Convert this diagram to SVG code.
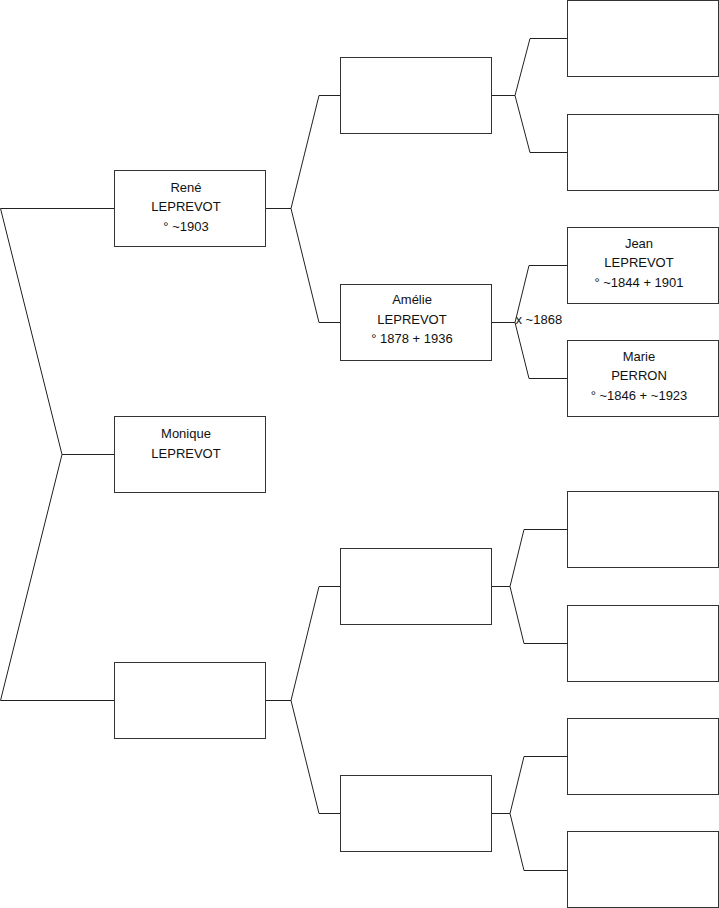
<svg xmlns="http://www.w3.org/2000/svg" width="719" height="908" viewBox="0 0 719 908">
<style>
.box{fill:#fff;stroke:#333;stroke-width:1}
.ln{fill:none;stroke:#222;stroke-width:1}
text{font-family:"Liberation Sans",Arial,sans-serif;font-size:13px;fill:#111;text-anchor:middle}
.lbl{text-anchor:start}
</style>
<rect width="719" height="908" fill="#fff"/>
<g id="connectors">
<path class="ln" d="M114.5,208.5 H0.5 L62,454.5 L0.5,700.5 H114.5 M62,454.5 H114.5"/>
<path class="ln" d="M265.5,208.5 H291 M340.5,95.5 H319 L291,208.5 L319,322.5 H340.5"/>
<path class="ln" d="M265.5,700.5 H291 M340.5,586.5 H319 L291,700.5 L319,813.5 H340.5"/>
<path class="ln" d="M491.5,95.5 H515 M567.5,38.5 H530 L515,95.5 L530,152.5 H567.5"/>
<path class="ln" d="M491.5,322.5 H515 M567.5,265.5 H529 L515,322.5 L529,378.5 H567.5"/>
<path class="ln" d="M491.5,586.5 H510 M567.5,529.5 H524 L510,586.5 L524,643.5 H567.5"/>
<path class="ln" d="M491.5,813.5 H510 M567.5,756.5 H524 L510,813.5 L524,870.5 H567.5"/>
<text class="lbl" x="515.5" y="324">x ~1868</text>
</g>
<g id="n-rene"><rect class="box" x="114.5" y="170.5" width="151" height="76"/>
<text x="186" y="191.5">René</text><text x="186" y="211">LEPREVOT</text><text x="186" y="230.5">° ~1903</text></g>
<g id="n-monique"><rect class="box" x="114.5" y="416.5" width="151" height="76"/>
<text x="186" y="437.5">Monique</text><text x="186" y="457.5">LEPREVOT</text></g>
<g id="n-c1b"><rect class="box" x="114.5" y="662.5" width="151" height="76"/></g>
<g id="n-c2a"><rect class="box" x="340.5" y="57.5" width="151" height="76"/></g>
<g id="n-amelie"><rect class="box" x="340.5" y="284.5" width="151" height="76"/>
<text x="412" y="304">Amélie</text><text x="412" y="323.5">LEPREVOT</text><text x="412" y="343">° 1878 + 1936</text></g>
<g id="n-c2c"><rect class="box" x="340.5" y="548.5" width="151" height="76"/></g>
<g id="n-c2d"><rect class="box" x="340.5" y="775.5" width="151" height="76"/></g>
<g id="n-c3a"><rect class="box" x="567.5" y="0.5" width="151" height="76"/></g>
<g id="n-c3b"><rect class="box" x="567.5" y="114.5" width="151" height="76"/></g>
<g id="n-jean"><rect class="box" x="567.5" y="227.5" width="151" height="76"/>
<text x="639" y="247.5">Jean</text><text x="639" y="267">LEPREVOT</text><text x="639" y="286.5">° ~1844 + 1901</text></g>
<g id="n-marie"><rect class="box" x="567.5" y="340.5" width="151" height="76"/>
<text x="639" y="360.5">Marie</text><text x="639" y="380">PERRON</text><text x="639" y="399.5">° ~1846 + ~1923</text></g>
<g id="n-c3e"><rect class="box" x="567.5" y="491.5" width="151" height="76"/></g>
<g id="n-c3f"><rect class="box" x="567.5" y="605.5" width="151" height="76"/></g>
<g id="n-c3g"><rect class="box" x="567.5" y="718.5" width="151" height="76"/></g>
<g id="n-c3h"><rect class="box" x="567.5" y="831.5" width="151" height="76"/></g>
</svg>
